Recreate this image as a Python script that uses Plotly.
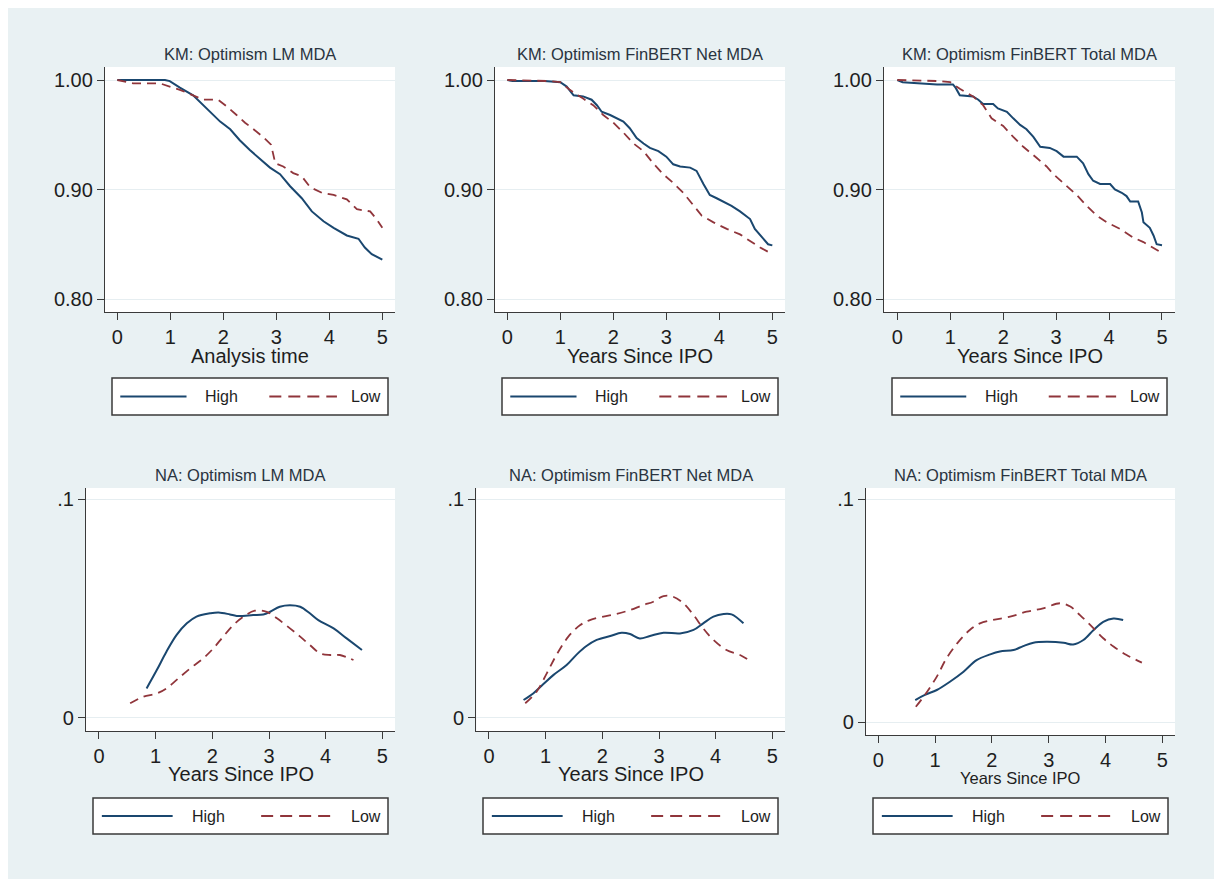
import plotly.graph_objects as go

# page has an 8px body margin; figure is sized to fill the rest of the window
OFF = 8
W, H = 1222 - OFF, 879 - OFF

# ---------------- data ----------------
panel_titles = ["KM: Optimism LM MDA", "KM: Optimism FinBERT Net MDA", "KM: Optimism FinBERT Total MDA",
                "NA: Optimism LM MDA", "NA: Optimism FinBERT Net MDA", "NA: Optimism FinBERT Total MDA"]
x_titles = ["Analysis time", "Years Since IPO", "Years Since IPO",
            "Years Since IPO", "Years Since IPO", "Years Since IPO"]
series_names = ["High", "Low"]
x_ticks = [0, 1, 2, 3, 4, 5]
km_yticks = [0.80, 0.90, 1.00]
km_yticklabels = ["0.80", "0.90", "1.00"]
na_yticks = [0, 0.1]
na_yticklabels = ["0", ".1"]

# KM: Optimism LM MDA
km1_high_t = [0, 0.90, 0.99, 1.18, 1.43, 1.62, 1.78, 1.94, 2.13, 2.31, 2.50, 2.69, 2.88, 3.07, 3.26,
              3.48, 3.67, 3.89, 4.08, 4.33, 4.55, 4.67, 4.80, 5.00]
km1_high_s = [1.000, 1.000, 0.999, 0.993, 0.986, 0.977, 0.970, 0.962, 0.955, 0.945, 0.936, 0.928, 0.920,
              0.914, 0.903, 0.892, 0.880, 0.871, 0.865, 0.858, 0.855, 0.847, 0.841, 0.836]
km1_low_t = [0, 0.10, 0.30, 0.80, 1.00, 1.18, 1.43, 1.62, 1.90, 2.06, 2.25, 2.41, 2.57, 2.75, 2.90,
             2.98, 3.13, 3.32, 3.48, 3.64, 3.86, 4.08, 4.33, 4.52, 4.77, 4.89, 5.00]
km1_low_s = [1.000, 0.999, 0.997, 0.997, 0.994, 0.991, 0.986, 0.982, 0.982, 0.976, 0.968, 0.961, 0.955,
             0.948, 0.941, 0.924, 0.921, 0.915, 0.912, 0.902, 0.897, 0.895, 0.891, 0.882, 0.880, 0.873, 0.865]

# KM: Optimism FinBERT Net MDA
km2_high_t = [0, 0.10, 0.70, 1.00, 1.12, 1.25, 1.43, 1.59, 1.69, 1.78, 1.94, 2.06, 2.19, 2.31, 2.44,
              2.57, 2.69, 2.85, 3.00, 3.13, 3.26, 3.45, 3.57, 3.70, 3.82, 3.95, 4.08, 4.23, 4.39,
              4.58, 4.67, 4.83, 4.92, 5.00]
km2_high_s = [1.000, 0.999, 0.999, 0.998, 0.994, 0.986, 0.985, 0.982, 0.977, 0.971, 0.968, 0.965, 0.962,
              0.956, 0.947, 0.942, 0.938, 0.935, 0.930, 0.923, 0.921, 0.920, 0.917, 0.905, 0.895, 0.892,
              0.889, 0.885, 0.880, 0.873, 0.864, 0.855, 0.850, 0.849]
km2_low_t = [0, 0.80, 1.00, 1.18, 1.43, 1.62, 1.81, 2.00, 2.19, 2.38, 2.57, 2.75, 2.94, 3.13, 3.32,
             3.51, 3.67, 3.89, 4.14, 4.39, 4.58, 4.77, 5.00]
km2_low_s = [1.000, 0.999, 0.998, 0.991, 0.983, 0.977, 0.968, 0.961, 0.952, 0.942, 0.935, 0.924, 0.914,
             0.906, 0.897, 0.886, 0.876, 0.870, 0.864, 0.859, 0.853, 0.847, 0.841]

# KM: Optimism FinBERT Total MDA
km3_high_t = [0, 0.10, 0.75, 1.05, 1.10, 1.18, 1.43, 1.53, 1.62, 1.81, 1.90, 2.07, 2.19, 2.32, 2.44,
              2.57, 2.70, 2.88, 3.01, 3.14, 3.39, 3.51, 3.61, 3.70, 3.83, 4.02, 4.11, 4.24, 4.33,
              4.40, 4.55, 4.62, 4.65, 4.77, 4.84, 4.90, 5.00]
km3_high_s = [1.000, 0.998, 0.996, 0.996, 0.993, 0.986, 0.985, 0.982, 0.978, 0.978, 0.974, 0.971, 0.965,
              0.959, 0.955, 0.948, 0.939, 0.938, 0.935, 0.930, 0.930, 0.924, 0.914, 0.908, 0.905, 0.905,
              0.900, 0.897, 0.894, 0.889, 0.889, 0.879, 0.870, 0.865, 0.858, 0.850, 0.849]
km3_low_t = [0, 0.80, 1.00, 1.18, 1.43, 1.62, 1.78, 2.00, 2.19, 2.38, 2.63, 2.82, 2.95, 3.14, 3.39,
             3.58, 3.77, 3.96, 4.21, 4.46, 4.65, 5.00]
km3_low_s = [1.000, 0.999, 0.998, 0.992, 0.985, 0.977, 0.965, 0.958, 0.948, 0.939, 0.929, 0.921, 0.914,
             0.906, 0.895, 0.885, 0.876, 0.870, 0.864, 0.856, 0.852, 0.842]

# NA: Optimism LM MDA (smoothed hazard)
na1_high_t = [0.84, 1.02, 1.19, 1.37, 1.55, 1.72, 1.96, 2.11, 2.31, 2.43, 2.72, 2.90, 3.02, 3.19, 3.37,
              3.55, 3.72, 3.87, 4.14, 4.37, 4.64]
na1_high_h = [0.0134, 0.0218, 0.0302, 0.0379, 0.0432, 0.0463, 0.0478, 0.0482, 0.0473, 0.0466, 0.0470,
              0.0473, 0.0485, 0.0508, 0.0515, 0.0508, 0.0478, 0.0447, 0.0409, 0.0363, 0.0310]
na1_low_t = [0.55, 0.78, 1.02, 1.19, 1.37, 1.61, 1.84, 2.02, 2.19, 2.37, 2.55, 2.75, 2.96, 3.14, 3.37,
             3.55, 3.72, 3.90, 4.08, 4.25, 4.49]
na1_low_h = [0.0066, 0.0096, 0.0111, 0.0134, 0.0173, 0.0226, 0.0272, 0.0318, 0.0371, 0.0424, 0.0463,
             0.0490, 0.0485, 0.0455, 0.0409, 0.0371, 0.0333, 0.0295, 0.0287, 0.0287, 0.0264]

# NA: Optimism FinBERT Net MDA
na2_high_t = [0.61, 0.78, 0.96, 1.14, 1.37, 1.55, 1.72, 1.90, 2.14, 2.34, 2.49, 2.66, 2.84, 3.08, 3.37,
              3.61, 3.78, 3.96, 4.14, 4.28, 4.49]
na2_high_h = [0.0081, 0.0111, 0.0154, 0.0196, 0.0241, 0.0290, 0.0328, 0.0356, 0.0374, 0.0389, 0.0383,
              0.0363, 0.0374, 0.0389, 0.0386, 0.0402, 0.0432, 0.0463, 0.0475, 0.0473, 0.0432]
na2_low_t = [0.64, 0.84, 1.02, 1.19, 1.40, 1.61, 1.78, 2.02, 2.25, 2.49, 2.72, 2.90, 3.08, 3.25, 3.43,
             3.61, 3.78, 3.96, 4.19, 4.43, 4.63]
na2_low_h = [0.0066, 0.0119, 0.0203, 0.0287, 0.0371, 0.0424, 0.0447, 0.0463, 0.0475, 0.0493, 0.0516,
             0.0531, 0.0557, 0.0554, 0.0524, 0.0470, 0.0409, 0.0356, 0.0310, 0.0287, 0.0256]

# NA: Optimism FinBERT Total MDA
na3_high_t = [0.65, 0.82, 1.03, 1.26, 1.50, 1.73, 1.97, 2.14, 2.38, 2.55, 2.73, 2.96, 3.26, 3.43, 3.61,
              3.79, 3.96, 4.14, 4.31]
na3_high_h = [0.0100, 0.0123, 0.0145, 0.0182, 0.0227, 0.0279, 0.0305, 0.0318, 0.0324, 0.0342, 0.0357,
              0.0361, 0.0357, 0.0349, 0.0369, 0.0414, 0.0451, 0.0466, 0.0459]
na3_low_t = [0.66, 0.82, 1.03, 1.20, 1.41, 1.61, 1.79, 2.02, 2.32, 2.61, 2.90, 3.20, 3.38, 3.55, 3.76,
             3.96, 4.14, 4.37, 4.64]
na3_low_h = [0.0070, 0.0123, 0.0205, 0.0287, 0.0361, 0.0414, 0.0444, 0.0459, 0.0474, 0.0496, 0.0511,
             0.0534, 0.0519, 0.0481, 0.0429, 0.0377, 0.0340, 0.0302, 0.0268]

panel_data = [
    ((km1_high_t, km1_high_s), (km1_low_t, km1_low_s)),
    ((km2_high_t, km2_high_s), (km2_low_t, km2_low_s)),
    ((km3_high_t, km3_high_s), (km3_low_t, km3_low_s)),
    ((na1_high_t, na1_high_h), (na1_low_t, na1_low_h)),
    ((na2_high_t, na2_high_h), (na2_low_t, na2_low_h)),
    ((na3_high_t, na3_high_h), (na3_low_t, na3_low_h)),
]

# ---------------- layout (pixel geometry, in window pixels) ----------------
# plot area: left, right, top, bottom (px); x range; y range
plot_boxes = [
    (105, 395, 67, 312, (-0.2327, 5.239), (0.78813, 1.01187)),
    (495, 785, 67, 312, (-0.2327, 5.239), (0.78813, 1.01187)),
    (884, 1175, 67, 312, (-0.252, 5.246), (0.78813, 1.01187)),
    (86, 395, 488, 731, (-0.229, 5.223), (-0.0061, 0.10519)),
    (476.3, 785, 488, 731, (-0.2235, 5.223), (-0.0061, 0.10519)),
    (866, 1175, 488, 735, (-0.217, 5.223), (-0.00568, 0.10508)),
]
legend_boxes = [
    (112, 388, 378, 415), (502, 778, 378, 415), (892, 1167, 378, 415),
    (93, 388, 798, 834), (483, 778, 798, 834), (873, 1168, 798, 834),
]
title_y = [54, 54, 54, 475, 475, 475]
xtitle_y = [356, 356, 356, 774, 774, 778]
xtitle_size = [20, 20, 20, 20, 20, 16.5]

HIGH_COLOR = "#1a476f"
LOW_COLOR = "#90353b"
AXIS_COLOR = "#3a3a3a"
TEXT_COLOR = "#1e1e1e"
BG = "#e9f1f3"
GRID = "#e6eef1"
FONT = "Liberation Sans, Arial, sans-serif"


def px(x):
    return (x - OFF) / W


def py(y):
    return 1 - (y - OFF) / H


fig = go.Figure()
layout = {}
shapes = []
annotations = []

for i, (box, data) in enumerate(zip(plot_boxes, panel_data)):
    n = i + 1
    xa = "x" if n == 1 else f"x{n}"
    ya = "y" if n == 1 else f"y{n}"
    is_km = i < 3
    (ht, hv), (lt, lv) = data
    shape = "linear" if is_km else "spline"
    fig.add_trace(go.Scatter(x=ht, y=hv, mode="lines", name=series_names[0], xaxis=xa, yaxis=ya,
                             line=dict(color=HIGH_COLOR, width=2, shape=shape), showlegend=False))
    fig.add_trace(go.Scatter(x=lt, y=lv, mode="lines", name=series_names[1], xaxis=xa, yaxis=ya,
                             line=dict(color=LOW_COLOR, width=1.8, shape=shape, dash="9px,6px"),
                             showlegend=False))
    l, r, t, b, xr, yr = box
    layout["xaxis" if n == 1 else f"xaxis{n}"] = dict(
        domain=[px(l), px(r)], range=list(xr), anchor=ya,
        tickmode="array", tickvals=x_ticks, ticktext=[str(v) for v in x_ticks],
        ticks="outside", ticklen=7, tickwidth=1.3, tickcolor=AXIS_COLOR,
        showline=True, linecolor=AXIS_COLOR, linewidth=1.3, showgrid=False, zeroline=False,
        tickfont=dict(size=20, color=TEXT_COLOR, family=FONT), fixedrange=True,
    )
    yt = km_yticks if is_km else na_yticks
    ytl = km_yticklabels if is_km else na_yticklabels
    layout["yaxis" if n == 1 else f"yaxis{n}"] = dict(
        domain=[py(b), py(t)], range=list(yr), anchor=xa,
        tickmode="array", tickvals=yt, ticktext=ytl,
        ticks="outside", ticklen=7, tickwidth=1.3, tickcolor=AXIS_COLOR,
        showline=True, linecolor=AXIS_COLOR, linewidth=1.3, showgrid=True, gridcolor=GRID,
        gridwidth=1.2, zeroline=False,
        tickfont=dict(size=20, color=TEXT_COLOR, family=FONT), fixedrange=True,
    )
    cx = (l + r) / 2
    annotations.append(dict(text=panel_titles[i], x=px(cx), y=py(title_y[i]), xref="paper", yref="paper",
                            showarrow=False, xanchor="center", yanchor="middle",
                            font=dict(size=16.5, color="#2a3440", family=FONT)))
    annotations.append(dict(text=x_titles[i], x=px(cx), y=py(xtitle_y[i]), xref="paper", yref="paper",
                            showarrow=False, xanchor="center", yanchor="middle",
                            font=dict(size=xtitle_size[i], color=TEXT_COLOR, family=FONT)))
    # legend box
    lx0, lx1, ly0, ly1 = legend_boxes[i]
    w = lx1 - lx0
    cy = (ly0 + ly1) / 2
    shapes.append(dict(type="rect", xref="paper", yref="paper", x0=px(lx0), x1=px(lx1), y0=py(ly1), y1=py(ly0),
                       fillcolor="white", line=dict(color=AXIS_COLOR, width=1.5), layer="above"))
    shapes.append(dict(type="line", xref="paper", yref="paper", x0=px(lx0 + 0.03 * w), x1=px(lx0 + 0.27 * w),
                       y0=py(cy), y1=py(cy), line=dict(color=HIGH_COLOR, width=2)))
    shapes.append(dict(type="line", xref="paper", yref="paper", x0=px(lx0 + 0.57 * w), x1=px(lx0 + 0.815 * w),
                       y0=py(cy), y1=py(cy), line=dict(color=LOW_COLOR, width=1.8, dash="12px,7px")))
    annotations.append(dict(text=series_names[0], x=px(lx0 + 0.33 * w), y=py(cy), xref="paper", yref="paper",
                            showarrow=False, xanchor="left", yanchor="middle",
                            font=dict(size=16, color=TEXT_COLOR, family=FONT)))
    annotations.append(dict(text=series_names[1], x=px(lx1 - 0.018 * w), y=py(cy), xref="paper", yref="paper",
                            showarrow=False, xanchor="right", yanchor="middle",
                            font=dict(size=16, color=TEXT_COLOR, family=FONT)))

# white strip and grey edge at the right of the graph region
shapes.append(dict(type="rect", xref="paper", yref="paper", x0=px(1217), x1=1, y0=0, y1=1,
                   fillcolor="white", line=dict(width=0)))
shapes.append(dict(type="line", xref="paper", yref="paper", x0=px(1216), x1=px(1216), y0=0, y1=1,
                   line=dict(color="#a8a8a8", width=2)))

fig.update_layout(
    width=W, height=H, margin=dict(l=0, r=0, t=0, b=0),
    paper_bgcolor=BG, plot_bgcolor="white",
    font=dict(family=FONT, color=TEXT_COLOR),
    shapes=shapes, annotations=annotations, showlegend=False,
    **layout,
)

fig.write_html("out.html")
